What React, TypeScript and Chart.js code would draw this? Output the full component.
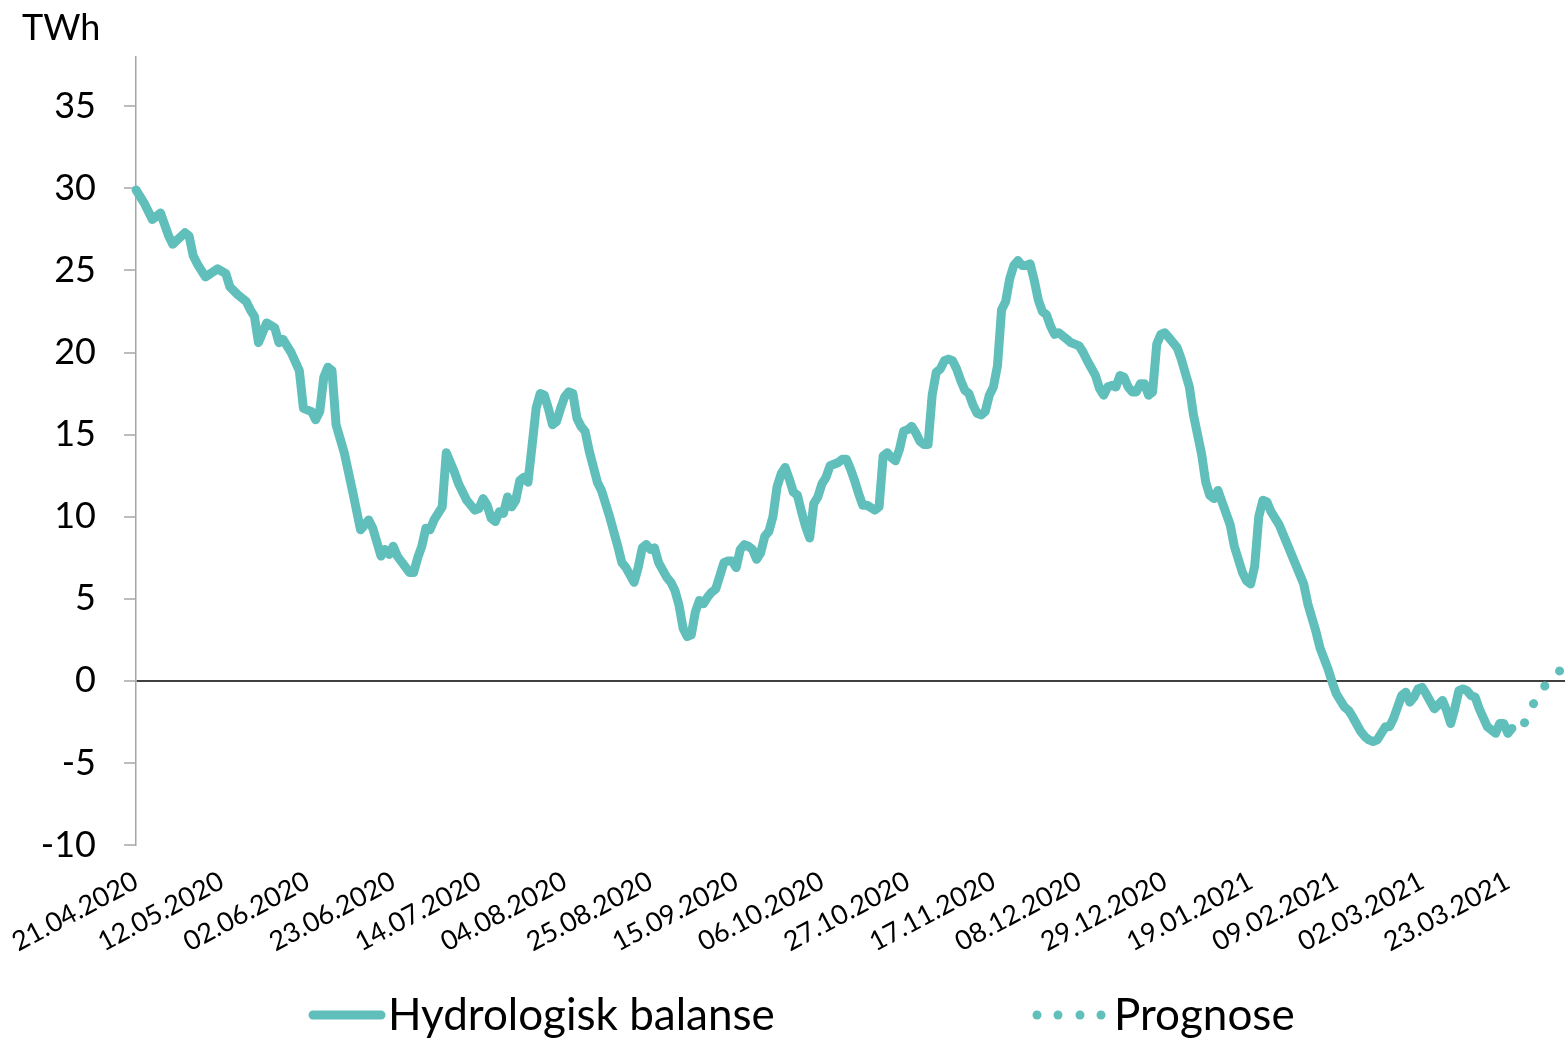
import React, { useEffect, useRef } from "react";
import { Chart, registerables } from "chart.js";

Chart.register(...registerables);

// X tick labels: one every 21 days starting 21.04.2020 (day 0)
const xTickLabels = [
  "21.04.2020", "12.05.2020", "02.06.2020", "23.06.2020", "14.07.2020",
  "04.08.2020", "25.08.2020", "15.09.2020", "06.10.2020", "27.10.2020",
  "17.11.2020", "08.12.2020", "29.12.2020", "19.01.2021", "09.02.2021",
  "02.03.2021", "23.03.2021",
];
const xTickStepDays = 21;
const xMaxDay = 350;

const yTicks = [-10, -5, 0, 5, 10, 15, 20, 25, 30, 35];
const yMin = -10;
const yMax = 38;
const yUnit = "TWh";

const legendLabels = ["Hydrologisk balanse", "Prognose"];

// Days since 21.04.2020
const balanceDays = [
  0, 2, 4, 6, 8, 9, 12, 13, 14, 15, 17, 20, 22, 23, 25, 27, 28, 29, 30, 32,
  34, 35, 36, 38, 40, 41, 43, 44, 45, 46, 47, 48, 49, 51, 53, 55, 57, 58, 60, 61,
  62, 63, 64, 67, 68, 69, 70, 71, 72, 73, 75, 76, 77, 78, 79, 81, 83, 84, 85, 86,
  87, 88, 89, 90, 91, 92, 93, 94, 95, 96, 97, 98, 99, 100, 101, 102, 103, 104, 105, 106,
  107, 108, 109, 110, 111, 113, 114, 116, 118, 119, 120, 122, 123, 124, 125, 126, 127, 128, 130, 131,
  132, 133, 134, 135, 136, 137, 138, 139, 140, 141, 142, 144, 145, 146, 147, 148, 149, 150, 151, 152,
  153, 154, 155, 156, 157, 158, 159, 160, 161, 162, 163, 164, 165, 166, 167, 168, 169, 170, 172, 173,
  174, 175, 176, 177, 178, 179, 181, 182, 183, 184, 185, 186, 187, 188, 189, 190, 191, 192, 193, 194,
  195, 196, 197, 198, 199, 200, 201, 202, 203, 204, 205, 206, 207, 208, 209, 210, 211, 212, 213, 214,
  215, 216, 217, 218, 219, 220, 221, 222, 223, 224, 225, 226, 228, 229, 231, 232, 233, 235, 236, 237,
  238, 239, 240, 241, 242, 243, 244, 245, 246, 247, 248, 249, 250, 251, 252, 253, 254, 255, 256, 258,
  259, 261, 262, 263, 264, 265, 266, 268, 269, 271, 272, 273, 274, 275, 276, 277, 278, 280, 282, 284,
  286, 287, 289, 290, 292, 293, 294, 296, 297, 298, 300, 301, 302, 303, 304, 305, 306, 307, 308, 309,
  310, 311, 312, 313, 314, 315, 316, 318, 320, 321, 322, 323, 324, 325, 326, 327, 328, 329, 331, 333,
  334, 335, 336, 337,
];
const balanceValues = [
  29.9, 29.1, 28.1, 28.5, 27.1, 26.6, 27.3, 27.1, 25.9, 25.4, 24.6, 25.1, 24.8, 24.0, 23.5, 23.1, 22.6, 22.2, 20.6, 21.8,
  21.5, 20.6, 20.8, 20.0, 18.9, 16.6, 16.4, 15.9, 16.4, 18.5, 19.1, 18.9, 15.6, 13.9, 11.6, 9.2, 9.8, 9.3, 7.6, 8.0,
  7.7, 8.2, 7.6, 6.6, 6.6, 7.5, 8.2, 9.3, 9.2, 9.8, 10.6, 13.9, 13.3, 12.7, 12.0, 11.0, 10.4, 10.5, 11.1, 10.7,
  9.9, 9.7, 10.3, 10.2, 11.2, 10.6, 11.0, 12.2, 12.4, 12.1, 14.3, 16.6, 17.5, 17.4, 16.6, 15.6, 15.8, 16.6, 17.3, 17.6,
  17.5, 16.0, 15.5, 15.2, 14.0, 12.1, 11.6, 10.0, 8.2, 7.2, 6.9, 6.0, 6.9, 8.1, 8.3, 8.0, 8.1, 7.2, 6.3, 6.0,
  5.5, 4.6, 3.2, 2.7, 2.8, 4.2, 4.9, 4.7, 5.1, 5.4, 5.6, 7.2, 7.3, 7.3, 6.9, 8.0, 8.3, 8.2, 8.0, 7.4,
  7.8, 8.8, 9.1, 10.0, 11.8, 12.6, 13.0, 12.3, 11.5, 11.3, 10.3, 9.4, 8.7, 10.8, 11.2, 12.0, 12.4, 13.1, 13.3, 13.5,
  13.5, 12.9, 12.2, 11.4, 10.7, 10.7, 10.4, 10.6, 13.7, 13.9, 13.6, 13.4, 14.1, 15.2, 15.3, 15.5, 15.1, 14.6, 14.4, 14.4,
  17.4, 18.8, 19.0, 19.5, 19.6, 19.5, 19.0, 18.3, 17.7, 17.5, 16.8, 16.3, 16.2, 16.4, 17.4, 17.9, 19.2, 22.6, 23.1, 24.5,
  25.3, 25.6, 25.3, 25.3, 25.4, 24.4, 23.2, 22.5, 22.3, 21.6, 21.1, 21.2, 20.8, 20.6, 20.4, 20.0, 19.5, 18.6, 17.8, 17.4,
  17.9, 18.0, 17.9, 18.6, 18.5, 17.9, 17.6, 17.6, 18.1, 18.1, 17.4, 17.6, 20.5, 21.1, 21.2, 20.9, 20.6, 20.3, 19.6, 17.9,
  16.2, 13.8, 12.1, 11.3, 11.1, 11.6, 10.9, 9.5, 8.2, 6.6, 6.1, 5.9, 7.0, 10.0, 11.0, 10.9, 10.3, 9.5, 8.3, 7.1,
  5.9, 4.7, 3.0, 2.0, 0.7, -0.1, -0.8, -1.6, -1.8, -2.2, -3.1, -3.4, -3.6, -3.7, -3.6, -3.2, -2.8, -2.8, -2.3, -1.6,
  -0.9, -0.7, -1.3, -1.0, -0.5, -0.4, -0.8, -1.7, -1.2, -1.8, -2.6, -1.7, -0.6, -0.5, -0.6, -0.9, -1.0, -1.7, -2.8, -3.2,
  -2.6, -2.6, -3.2, -2.9,
];

const prognoseDays = [337, 340, 341, 343, 346, 350];
const prognoseValues = [-2.9, -2.6, -2.1, -1.0, 0.0, 0.9];

const TEAL = "#60BFBB";
const FONT = "Lato";

const overlayPlugin = {
  id: "overlay",
  afterDraw(chart: any) {
    const ctx = chart.ctx as CanvasRenderingContext2D;
    ctx.save();
    ctx.fillStyle = "#000";
    ctx.textBaseline = "alphabetic";
    ctx.textAlign = "left";
    ctx.font = `36px ${FONT}`;
    ctx.fillText(yUnit, 22, 40);

    // legend
    const ly = 1015;
    ctx.strokeStyle = TEAL;
    ctx.lineWidth = 9;
    ctx.lineCap = "round";
    ctx.beginPath();
    ctx.moveTo(313, ly);
    ctx.lineTo(381, ly);
    ctx.stroke();
    ctx.font = `44px ${FONT}`;
    ctx.fillStyle = "#000";
    ctx.fillText(legendLabels[0], 388, 1030);

    ctx.fillStyle = TEAL;
    [1037, 1058, 1080, 1101].forEach((x) => {
      ctx.beginPath();
      ctx.arc(x, ly, 4.5, 0, Math.PI * 2);
      ctx.fill();
    });
    ctx.fillStyle = "#000";
    ctx.fillText(legendLabels[1], 1114, 1030);
    ctx.restore();
  },
};

export default function App() {
  const ref = useRef<HTMLCanvasElement>(null);
  useEffect(() => {
    document.body.style.margin = "0";
    const canvas = ref.current!;
    const chart = new Chart(canvas, {
      type: "line",
      data: {
        datasets: [
          {
            label: legendLabels[0],
            data: balanceDays.map((d, i) => ({ x: d, y: balanceValues[i] })),
            borderColor: TEAL,
            backgroundColor: TEAL,
            borderWidth: 9,
            pointRadius: 0,
            borderJoinStyle: "round",
            borderCapStyle: "round",
            tension: 0,
            clip: false as any,
          },
          {
            label: legendLabels[1],
            data: prognoseDays.map((d, i) => ({ x: d, y: prognoseValues[i] })),
            borderColor: TEAL,
            backgroundColor: TEAL,
            borderWidth: 9,
            pointRadius: 0,
            borderDash: [0.1, 21],
            borderDashOffset: -14,
            borderCapStyle: "round",
            borderJoinStyle: "round",
            tension: 0,
            clip: false as any,
          },
        ],
      },
      options: {
        responsive: false,
        animation: false,
        layout: { padding: { top: 57, right: 0, bottom: 0, left: 0 } },
        plugins: {
          legend: { display: false },
          tooltip: { enabled: false },
          title: { display: false },
        },
        scales: {
          x: {
            type: "linear",
            min: 0,
            max: xMaxDay,
            afterBuildTicks: (s: any) => {
              s.ticks = xTickLabels.map((_, i) => ({ value: i * xTickStepDays }));
            },
            afterFit: (s: any) => {
              s.height = 194;
            },
            grid: { display: false },
            border: { display: false },
            ticks: {
              autoSkip: false,
              minRotation: 28,
              maxRotation: 28,
              padding: 12,
              color: "#000",
              font: { family: FONT, size: 27 },
              callback: (_v: any, i: number) => xTickLabels[i],
            },
          },
          y: {
            min: yMin,
            max: yMax,
            afterBuildTicks: (s: any) => {
              s.ticks = yTicks.map((v) => ({ value: v }));
            },
            afterFit: (s: any) => {
              s.width = 136;
            },
            grid: {
              drawOnChartArea: true,
              color: (c: any) => (c.tick && c.tick.value === 0 ? "#404040" : "rgba(0,0,0,0)"),
              lineWidth: 2,
              tickColor: "#A6A6A6",
              tickLength: 12,
              tickWidth: 1.5,
            },
            border: { color: "#A6A6A6", width: 1.5 },
            ticks: {
              padding: 28,
              color: "#000",
              font: { family: FONT, size: 36 },
            },
          },
        },
      },
      plugins: [overlayPlugin],
    });
    return () => chart.destroy();
  }, []);
  return (
    <div style={{ width: 1565, height: 1039, background: "#fff" }}>
      <canvas ref={ref} width={1565} height={1039} style={{ display: "block", width: 1565, height: 1039 }} />
    </div>
  );
}
